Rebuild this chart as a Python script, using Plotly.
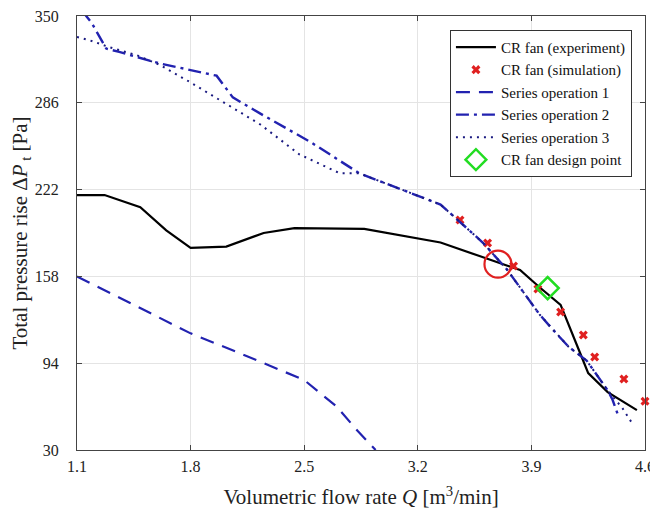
import plotly.graph_objects as go

# Data
exp_x = [1.1, 1.27, 1.49, 1.65, 1.80, 2.02, 2.25, 2.44, 2.87, 3.15, 3.34, 3.58, 3.83, 3.95, 4.08, 4.20, 4.25, 4.37, 4.55]
exp_y = [218, 218, 209, 192, 179, 180, 190, 193.6, 193, 187, 183, 173, 162.7, 150, 137, 101.5, 86.7, 72.7, 59.4]

sim_x = [3.46, 3.63, 3.79, 3.94, 4.08, 4.22, 4.29, 4.47, 4.60]
sim_y = [199.6, 182.6, 165.6, 148.7, 131.7, 114.8, 98.5, 82.3, 66]

s1_x = [1.1, 1.8, 2.1, 2.5, 2.7, 2.83, 2.94]
s1_y = [158, 116, 101.5, 81.6, 62, 44, 30]

s2_x = [1.13, 1.19, 1.28, 1.36, 1.61, 1.96, 2.06, 2.23, 2.54, 2.84, 3.34, 3.60, 3.75, 3.95, 4.03, 4.13, 4.24, 4.37, 4.40, 4.43]
s2_y = [354, 345, 326, 323.5, 315, 306, 290, 278, 257, 234, 211, 183, 163, 130, 119, 106, 96, 74, 67, 57]

s3_x = [1.1, 1.18, 1.30, 1.47, 1.61, 1.80, 2.23, 2.47, 2.72, 2.84, 3.34, 3.60, 3.75, 3.95, 4.13, 4.24, 4.37, 4.46, 4.53]
s3_y = [334.5, 332, 327, 321, 314, 301, 270, 248, 234, 234, 211, 183, 163, 130, 106, 96, 74, 61, 48]

design_x = [4.0]
design_y = [149.4]

mark_x = [3.694]
mark_y = [167]

x_ticks = [1.1, 1.8, 2.5, 3.2, 3.9, 4.6]
y_ticks = [30, 94, 158, 222, 286, 350]

BLUE = "#2222b0"
FONT = "Liberation Serif"

fig = go.Figure()
fig.add_trace(go.Scatter(x=exp_x, y=exp_y, mode="lines", name="CR fan (experiment)",
                         line=dict(color="black", width=2.2)))
fig.add_trace(go.Scatter(x=sim_x, y=sim_y, mode="markers", name="CR fan (simulation)",
                         marker=dict(symbol="x", size=8, color="#e02020"), cliponaxis=False))
fig.add_trace(go.Scatter(x=s1_x, y=s1_y, mode="lines", name="Series operation 1",
                         line=dict(color=BLUE, width=2.2, dash="14px,9px")))
fig.add_trace(go.Scatter(x=s2_x, y=s2_y, mode="lines", name="Series operation 2",
                         line=dict(color=BLUE, width=2.4, dash="13px,5px,3px,5px")))
fig.add_trace(go.Scatter(x=s3_x, y=s3_y, mode="lines", name="Series operation 3",
                         line=dict(color="#1a1a80", width=2, dash="2px,5px")))
fig.add_trace(go.Scatter(x=design_x, y=design_y, mode="markers", name="CR fan design point",
                         marker=dict(symbol="diamond-open", size=17, color="#22dd22",
                                     line=dict(width=2.5, color="#22dd22"))))
fig.add_trace(go.Scatter(x=mark_x, y=mark_y, mode="markers", showlegend=False,
                         marker=dict(symbol="circle-open", size=27, color="#e02020",
                                     line=dict(width=2.2, color="#e02020"))))

axis_common = dict(showgrid=True, gridcolor="#e4e4e4", gridwidth=1, zeroline=False,
                   showline=True, linecolor="#444", linewidth=1, mirror="ticks",
                   ticks="inside", ticklen=5, tickcolor="#444", ticklabeloverflow="allow",
                   tickfont=dict(family=FONT, size=16, color="#222"))

# The page body adds an 8 px offset, so the figure is 8 px smaller on each axis
fig.update_layout(
    width=650, height=504,
    margin=dict(l=69, r=13, t=8, b=62),
    paper_bgcolor="white", plot_bgcolor="white",
    font=dict(family=FONT, color="#222"),
    xaxis=dict(range=[1.1, 4.6], tickvals=x_ticks, ticktext=[f"{v:.1f}" for v in x_ticks],
               ticklabelstandoff=2, automargin=False,
               title=dict(text="Volumetric flow rate <i>Q</i> [m<sup>3</sup>/min]",
                          font=dict(family=FONT, size=21)),
               **axis_common),
    yaxis=dict(range=[30, 350], tickvals=y_ticks, ticktext=[str(v) for v in y_ticks],
               ticklabelstandoff=14, automargin="left",
               title=dict(text="Total pressure rise Δ<i>P</i><sub> t</sub> [Pa]",
                          font=dict(family=FONT, size=21), standoff=2),
               **axis_common),
    legend=dict(x=0.977, y=0.968, xanchor="right", yanchor="top",
                bgcolor="white", bordercolor="#333", borderwidth=1,
                font=dict(family=FONT, size=15, color="#111"),
                tracegroupgap=0, itemwidth=40),
    showlegend=True,
)

fig.write_html("out.html")
